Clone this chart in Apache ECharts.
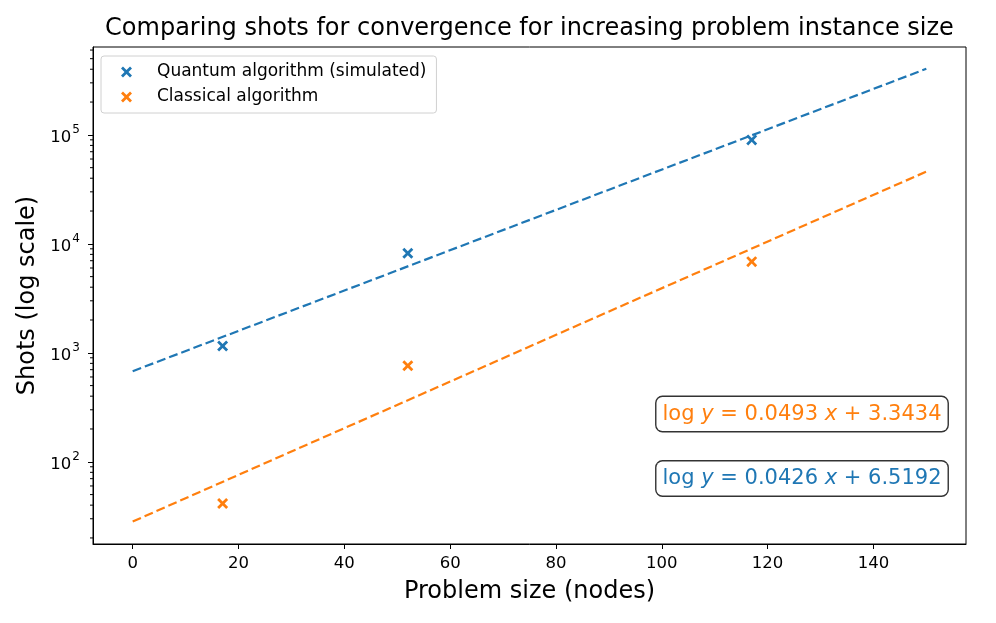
<!DOCTYPE html>
<html>
<head>
<meta charset="utf-8">
<script src="https://cdn.jsdelivr.net/npm/echarts@6/dist/echarts.min.js"></script>
<style>html,body{margin:0;padding:0;background:#fff;}#c{width:996px;height:623px;}</style>
</head>
<body>
<div id="c"></div>
<script>
// ---- data ----
const quantumX = [17, 52, 117];
const quantumY = [1154, 8200, 89900];
const classicalX = [17, 52, 117];
const classicalY = [41.5, 761, 6865];
// fitted lines (endpoints)
const quantumFitX = [0, 150];
const quantumFitY = [678, 404000];
const classicalFitX = [0, 150];
const classicalFitY = [28.3, 46000];
// ticks
const xTicks = [0, 20, 40, 60, 80, 100, 120, 140];
const yMajorTicks = [100, 1000, 10000, 100000];
const yMinorTicks = [20, 30, 40, 50, 60, 70, 80, 90,
  200, 300, 400, 500, 600, 700, 800, 900,
  2000, 3000, 4000, 5000, 6000, 7000, 8000, 9000,
  20000, 30000, 40000, 50000, 60000, 70000, 80000, 90000,
  200000, 300000, 400000, 500000, 600000];
const legendNames = ['Quantum algorithm (simulated)', 'Classical algorithm'];
const titleText = 'Comparing shots for convergence for increasing problem instance size';
const xName = 'Problem size (nodes)';
const yName = 'Shots (log scale)';
const eqClassical = ['0.0493', '3.3434'];
const eqQuantum = ['0.0426', '6.5192'];

const BLUE = '#1f77b4', ORANGE = '#ff7f0e';
const FONT = 'DejaVu Sans';
const X_PATH = 'path://M1.8,0 L5,3.2 L8.2,0 L10,1.8 L6.8,5 L10,8.2 L8.2,10 L5,6.8 L1.8,10 L0,8.2 L3.2,5 L0,1.8 Z';

const zip = (a, b) => a.map((v, i) => [v, b[i]]);
const chart = echarts.init(document.getElementById('c'), null, {renderer: 'canvas'});

function eq(vals, color) {
  return {
    text: '{n|log }{i|y}{n| = ' + vals[0] + ' }{i|x}{n| + ' + vals[1] + '}',
    rich: {
      n: {fill: color, fontSize: 21, fontFamily: FONT},
      i: {fill: color, fontSize: 21, fontFamily: FONT, fontStyle: 'italic'}
    }
  };
}

const xMin = -7.5, xMax = 157.5;
const yMin = 17.6, yMax = 640000;
chart.setOption({
  animation: false,
  textStyle: {fontFamily: FONT},
  grid: {left: 93, top: 47, right: 30, bottom: 79, show: true, borderColor: '#000', borderWidth: 1, backgroundColor: 'transparent'},
  xAxis: {
    type: 'value', min: xMin, max: xMax,
    name: xName, nameLocation: 'middle', nameGap: 36,
    nameTextStyle: {fontSize: 24, color: '#000', fontFamily: FONT},
    axisLine: {show: true, onZero: false, lineStyle: {color: '#000', width: 1}},
    axisTick: {show: true, length: 5, lineStyle: {color: '#000'}, customValues: xTicks},
    axisLabel: {color: '#000', fontSize: 16.5, margin: 11, customValues: xTicks, fontFamily: FONT},
    splitLine: {show: false}
  },
  yAxis: {
    type: 'log', logBase: 10, min: yMin, max: yMax,
    name: yName, nameLocation: 'middle', nameGap: 46,
    nameTextStyle: {fontSize: 24, color: '#000', fontFamily: FONT},
    axisLine: {show: true, onZero: false, lineStyle: {color: '#000', width: 1}},
    axisTick: {show: true, length: 5, lineStyle: {color: '#000'}, customValues: yMajorTicks},
    axisLabel: {
      customValues: yMajorTicks, margin: 13, color: '#000',
      formatter: v => '{b|10}{s|' + Math.round(Math.log10(v)) + '}',
      rich: {
        b: {fontSize: 16.5, color: '#000', fontFamily: FONT, lineHeight: 22, verticalAlign: 'bottom'},
        s: {fontSize: 12, color: '#000', fontFamily: FONT, lineHeight: 22, verticalAlign: 'top', padding: [0, 0, 0, 1]}
      }
    },
    splitLine: {show: false}
  },
  legend: {
    left: 101, top: 56, orient: 'vertical',
    data: legendNames.map(n => ({name: n, icon: X_PATH})),
    itemWidth: 11, itemHeight: 11, itemGap: 5,
    padding: [6, 10, 6, 20],
    borderColor: '#d0d0d0', borderWidth: 1, borderRadius: 3, backgroundColor: '#fff',
    formatter: n => '{t|' + n + '}',
    textStyle: {
      fontSize: 17, color: '#000', fontFamily: FONT, lineHeight: 20,
      rich: {t: {fontSize: 17, color: '#000', fontFamily: FONT, lineHeight: 20, padding: [0, 0, 0, 20]}}
    }
  },
  series: [
    {name: 'minorTicks', type: 'custom', data: yMinorTicks.map(v => [xMin, v]), clip: false, silent: true, z: 5,
      encode: {x: 0, y: 1},
      renderItem: (params, api) => {
        const p = api.coord([api.value(0), api.value(1)]);
        return {type: 'line', shape: {x1: p[0] - 3, y1: p[1], x2: p[0], y2: p[1]}, style: {stroke: '#000', lineWidth: 1}};
      }},
    {name: 'qfit', type: 'line', data: zip(quantumFitX, quantumFitY), showSymbol: false, symbol: 'none',
      lineStyle: {color: BLUE, width: 2.2, type: [9, 4]}, z: 2, silent: true},
    {name: 'cfit', type: 'line', data: zip(classicalFitX, classicalFitY), showSymbol: false, symbol: 'none',
      lineStyle: {color: ORANGE, width: 2.2, type: [9, 4]}, z: 2, silent: true},
    {name: legendNames[0], type: 'scatter', data: zip(quantumX, quantumY), symbol: X_PATH, symbolSize: 11,
      itemStyle: {color: BLUE, opacity: 1}, z: 3},
    {name: legendNames[1], type: 'scatter', data: zip(classicalX, classicalY), symbol: X_PATH, symbolSize: 11,
      itemStyle: {color: ORANGE, opacity: 1}, z: 3}
  ],
  graphic: [
    {type: 'text', x: 529.5, y: 29, style: {text: titleText, fontSize: 24, fontFamily: FONT, fill: '#000', textAlign: 'center', textVerticalAlign: 'middle'}},
    {type: 'text', x: 802, y: 414, z: 10, style: Object.assign(eq(eqClassical, ORANGE), {
      textAlign: 'center', textVerticalAlign: 'middle', backgroundColor: '#fff', borderColor: '#333', borderWidth: 1.4, borderRadius: 6, padding: [7, 6, 6, 6]})},
    {type: 'text', x: 802, y: 478.5, z: 10, style: Object.assign(eq(eqQuantum, BLUE), {
      textAlign: 'center', textVerticalAlign: 'middle', backgroundColor: '#fff', borderColor: '#333', borderWidth: 1.4, borderRadius: 6, padding: [7, 6, 6, 6]})}
  ]
});
</script>
</body>
</html>
